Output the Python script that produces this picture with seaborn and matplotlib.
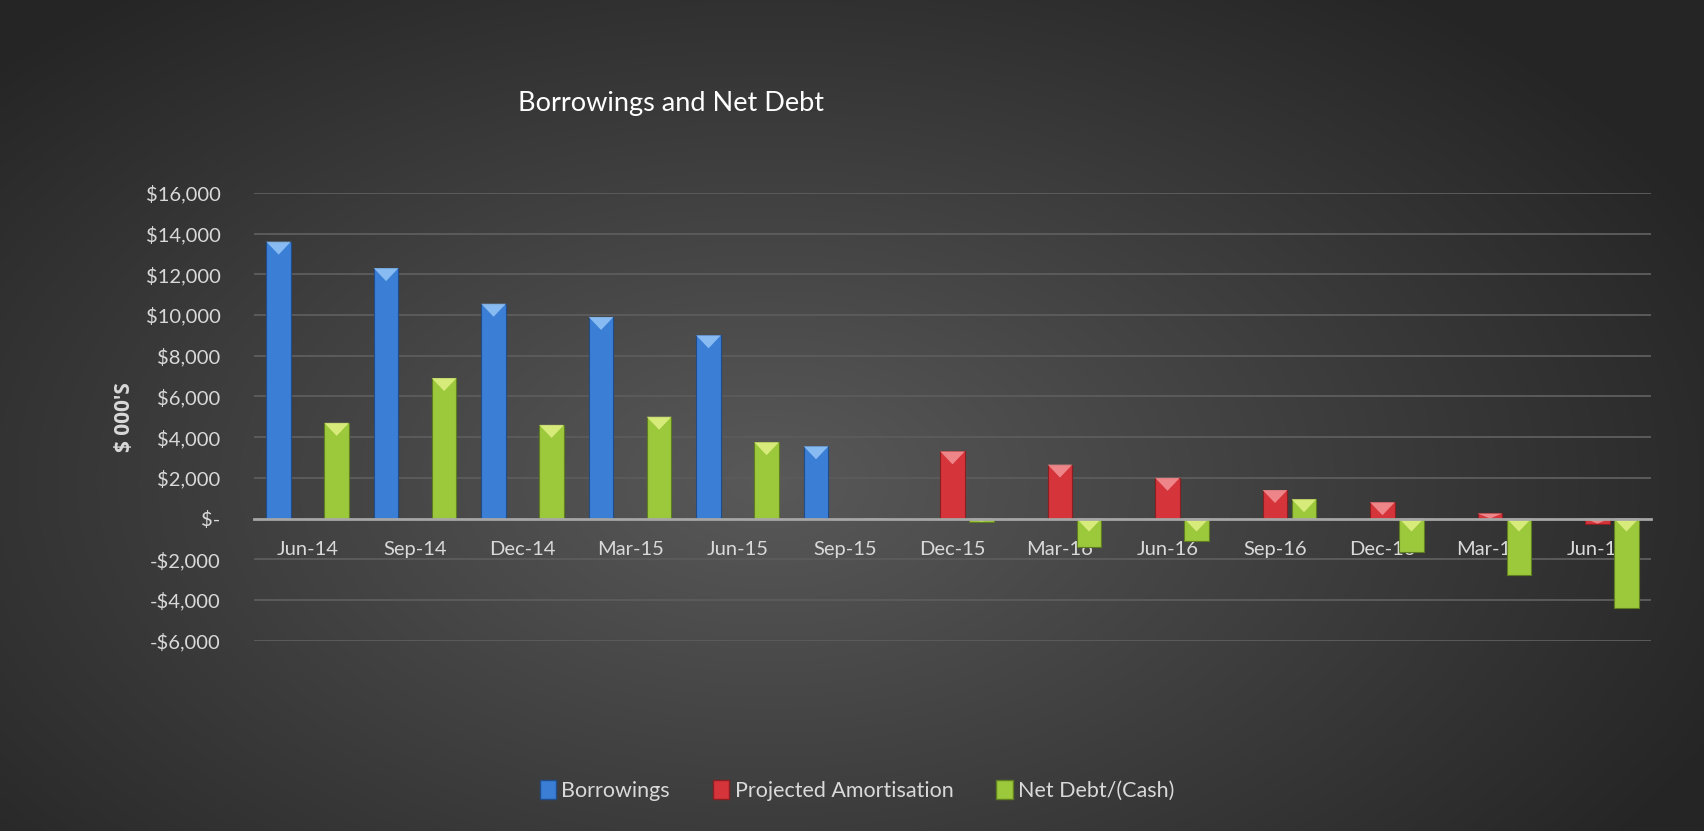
import numpy as np
import pandas as pd
import seaborn as sns
import matplotlib.pyplot as plt
from matplotlib.patches import Polygon, Patch

periods = ['Jun-14', 'Sep-14', 'Dec-14', 'Mar-15', 'Jun-15', 'Sep-15', 'Dec-15',
           'Mar-16', 'Jun-16', 'Sep-16', 'Dec-16', 'Mar-17', 'Jun-17']
borrowings = [13600, 12300, 10550, 9900, 9000, 3550,
              np.nan, np.nan, np.nan, np.nan, np.nan, np.nan, np.nan]
amortisation = [np.nan, np.nan, np.nan, np.nan, np.nan, np.nan,
                3300, 2650, 2000, 1400, 800, 250, -250]
net_debt = [4700, 6900, 4600, 5000, 3750, -40, -150, -1400, -1100, 950, -1650, -2750, -4400]
series_names = ['Borrowings', 'Projected Amortisation', 'Net Debt/(Cash)']
y_ticks = list(range(-6000, 16001, 2000))

colors = ['#3a7ed6', '#d4343a', '#9cc83c']
edges = ['#1f4d8a', '#8a1f22', '#5f7e20']
light = ['#9ccbf8', '#f59a9c', '#e6f58a']

df = pd.DataFrame({
    'period': periods * 3,
    'series': [s for s in series_names for _ in periods],
    'value': borrowings + amortisation + net_debt,
})


def money(v, pos=None):
    if v == 0:
        return '$-'
    sign = '-' if v < 0 else ''
    return f'{sign}${abs(int(v)):,}'


sns.set_theme(style='white')
plt.rcParams['font.family'] = ['Lato', 'DejaVu Sans']

fig = plt.figure(figsize=(17.04, 8.31), dpi=100)

# background gradient
bg = fig.add_axes([0, 0, 1, 1], zorder=-10)
yy, xx = np.mgrid[0:1:300j, 0:1:600j]
r = np.sqrt(((xx - 0.45) / 0.62) ** 2 + ((yy - 0.42) / 0.75) ** 2)
r = np.clip(r, 0, 1)
shade = 0x59 * (1 - r) + 0x25 * r
img = np.dstack([shade / 255] * 3)
bg.imshow(img, extent=[0, 1, 0, 1], aspect='auto', origin='lower')
bg.axis('off')

ax = fig.add_axes([0.149, 0.229, 0.82, 0.539])
ax.patch.set_alpha(0)
sns.barplot(data=df, x='period', y='value', hue='series', order=periods,
            hue_order=series_names, palette=colors, saturation=1, width=0.81, gap=0.15,
            errorbar=None, legend=False, ax=ax, zorder=3)

ax.set_ylim(-6000, 16000)
ax.set_xlim(-0.5, len(periods) - 0.5)
ax.set_yticks(y_ticks)
ax.yaxis.set_major_formatter(plt.FuncFormatter(money))
ax.tick_params(axis='y', colors='#d9d9d9', labelsize=14.5, length=0, pad=24)
ax.tick_params(axis='x', colors='#d9d9d9', labelsize=14.5, length=0, pad=16)
ax.xaxis.set_zorder(2)
for y in y_ticks:
    if y != 0:
        ax.axhline(y, color='#5b5b5b', lw=1.4, zorder=1)
for s in ['top', 'right', 'left']:
    ax.spines[s].set_visible(False)
ax.spines['bottom'].set_position(('data', 0))
ax.spines['bottom'].set_color('#a6a6a6')
ax.spines['bottom'].set_linewidth(2)
ax.spines['bottom'].set_zorder(4)
ax.set_xlabel('')
ax.set_ylabel("$ 000'S", color='#d9d9d9', fontsize=15, fontweight='bold',
              family=['Open Sans', 'DejaVu Sans'], labelpad=8)

# bevel look: edge colour and a light triangle at the top of each bar
fig.canvas.draw()
px_per_unit = ax.transData.transform((0, 1000))[1] - ax.transData.transform((0, 0))[1]
for i, bars in enumerate(ax.containers):
    for bar in bars:
        h = bar.get_height()
        if np.isnan(h):
            continue
        bar.set_edgecolor(edges[i])
        bar.set_linewidth(0.8)
        x0 = bar.get_x()
        w = bar.get_width()
        top = max(bar.get_y(), bar.get_y() + h)
        depth = min(13 / px_per_unit * 1000, abs(h))
        tri = Polygon([(x0, top), (x0 + w, top), (x0 + w / 2, top - depth)],
                      closed=True, facecolor=light[i], edgecolor='none', alpha=0.8, zorder=3.5)
        ax.add_patch(tri)

fig.text(0.304, 0.875, 'Borrowings and Net Debt', color='white', fontsize=19.5,
         ha='left', va='center')

handles = [Patch(facecolor=colors[i], edgecolor=edges[i]) for i in range(3)]
leg = fig.legend(handles, series_names, loc='center', bbox_to_anchor=(0.503, 0.049),
                 ncol=3, frameon=False, fontsize=15.5, handlelength=0.75, handleheight=1.0,
                 handletextpad=0.25, columnspacing=2.0)
for t in leg.get_texts():
    t.set_color('#d9d9d9')

fig.savefig('out.png', dpi=100)
